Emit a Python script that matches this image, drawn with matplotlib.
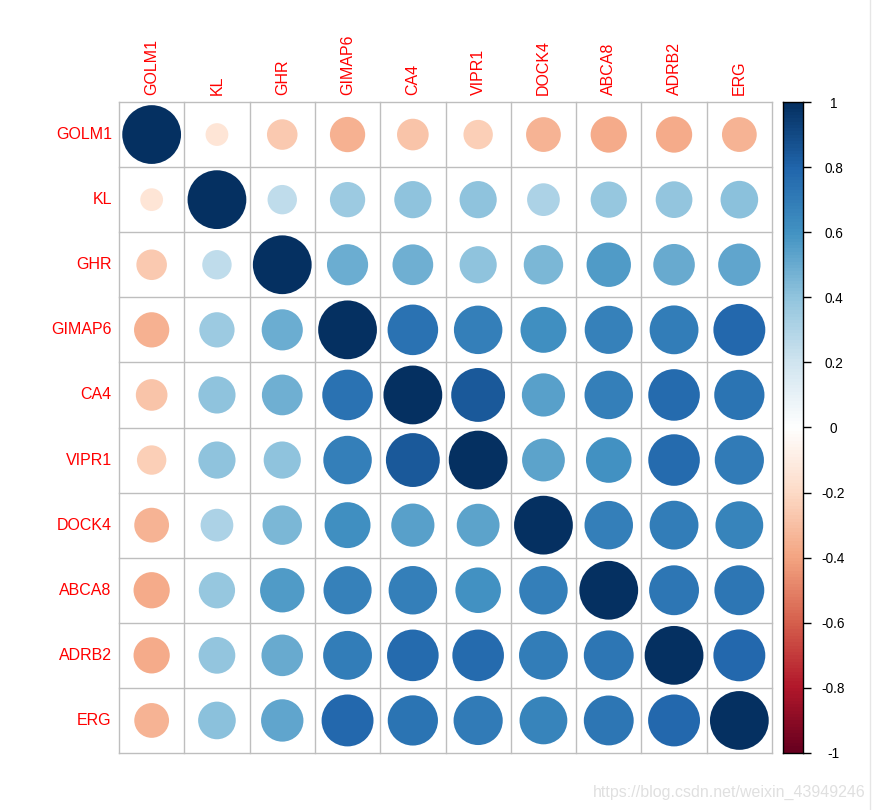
import numpy as np
import matplotlib
matplotlib.use("Agg")
import matplotlib.pyplot as plt
from matplotlib.colors import LinearSegmentedColormap
from matplotlib.patches import Ellipse
from matplotlib.lines import Line2D

plt.rcParams['font.family'] = ['Liberation Sans', 'DejaVu Sans']

genes = ["GOLM1", "KL", "GHR", "GIMAP6", "CA4", "VIPR1", "DOCK4", "ABCA8", "ADRB2", "ERG"]

# upper-triangle correlations (row i, columns i+1..n-1)
upper_golm1 = [-0.15, -0.27, -0.36, -0.29, -0.25, -0.35, -0.38, -0.38, -0.35]
upper_kl = [0.25, 0.36, 0.40, 0.40, 0.31, 0.38, 0.39, 0.41]
upper_ghr = [0.49, 0.48, 0.40, 0.45, 0.57, 0.50, 0.52]
upper_gimap6 = [0.74, 0.68, 0.61, 0.67, 0.69, 0.78]
upper_ca4 = [0.84, 0.54, 0.68, 0.77, 0.73]
upper_vipr1 = [0.53, 0.60, 0.77, 0.70]
upper_dock4 = [0.68, 0.69, 0.66]
upper_abca8 = [0.72, 0.72]
upper_adrb2 = [0.78]

uppers = [upper_golm1, upper_kl, upper_ghr, upper_gimap6, upper_ca4,
          upper_vipr1, upper_dock4, upper_abca8, upper_adrb2]

n = len(genes)
M = np.eye(n)
for i, row in enumerate(uppers):
    for k, v in enumerate(row):
        j = i + 1 + k
        M[i, j] = v
        M[j, i] = v

rdbu = ["#67001F", "#B2182B", "#D6604D", "#F4A582", "#FDDBC7", "#FFFFFF",
        "#D1E5F0", "#92C5DE", "#4393C3", "#2166AC", "#053061"]
cmap = LinearSegmentedColormap.from_list("corr", rdbu, N=200)

W, H = 877, 810
fig = plt.figure(figsize=(W / 100, H / 100), dpi=100)

gl, gr, gt, gb = 119, 772, 102, 753
ax = fig.add_axes([gl / W, 1 - gb / H, (gr - gl) / W, (gb - gt) / H])
ax.set_xlim(0, n)
ax.set_ylim(n, 0)
ax.set_aspect('auto')
for s in ax.spines.values():
    s.set_visible(False)
ax.set_xticks([])
ax.set_yticks([])

# grid
for k in range(n + 1):
    ax.plot([k, k], [0, n], color='#BEBEBE', lw=1, zorder=1, clip_on=False)
    ax.plot([0, n], [k, k], color='#BEBEBE', lw=1, zorder=1, clip_on=False)

sx = (gr - gl) / n
sy = (gb - gt) / n
for i in range(n):
    for j in range(n):
        r = M[i, j]
        d = 0.9 * np.sqrt(abs(r))
        e = Ellipse((j + 0.5, i + 0.5), d, d * sx / sy,
                    facecolor=cmap((r + 1) / 2), edgecolor='none', zorder=2)
        ax.add_patch(e)

# row labels
for i, g in enumerate(genes):
    ax.text(-0.11, i + 0.5, g, ha='right', va='center', color='red', fontsize=11.5)
# column labels
for j, g in enumerate(genes):
    ax.text(j + 0.5, -0.11, g, ha='center', va='bottom', rotation=90,
            color='red', fontsize=11.5)

# colorbar
cax = fig.add_axes([783 / W, 1 - gb / H, 20 / W, (gb - gt) / H])
grad = np.linspace(-1, 1, 200).reshape(-1, 1)
cax.imshow(grad, cmap=cmap, aspect='auto', origin='lower', extent=[0, 1, -1, 1],
           vmin=-1, vmax=1, interpolation='nearest')
cax.set_xlim(0, 1)
cax.set_ylim(-1, 1)
cax.set_xticks([])
cax.yaxis.tick_right()
ticks = np.round(np.arange(-1, 1.01, 0.2), 1)
cax.set_yticks(ticks)
cax.set_yticklabels(["%g" % t if abs(t) > 1e-9 else "0" for t in ticks])
cax.tick_params(axis='y', length=6, width=1, direction='out', labelsize=9.8, pad=16)
for lab in cax.get_yticklabels():
    lab.set_horizontalalignment('center')
for s in cax.spines.values():
    s.set_linewidth(1)
    s.set_color('black')

# screenshot border line and watermark
fig.add_artist(Line2D([870 / W, 870 / W], [0, 1], color='#E6E6E6', lw=1))
fig.text(866 / W, 1 - 792 / H, "https://blog.csdn.net/weixin_43949246", ha='right',
         va='center', color='#E0E0E0', fontsize=11.5)

fig.savefig("out.png", dpi=100, facecolor='white')
